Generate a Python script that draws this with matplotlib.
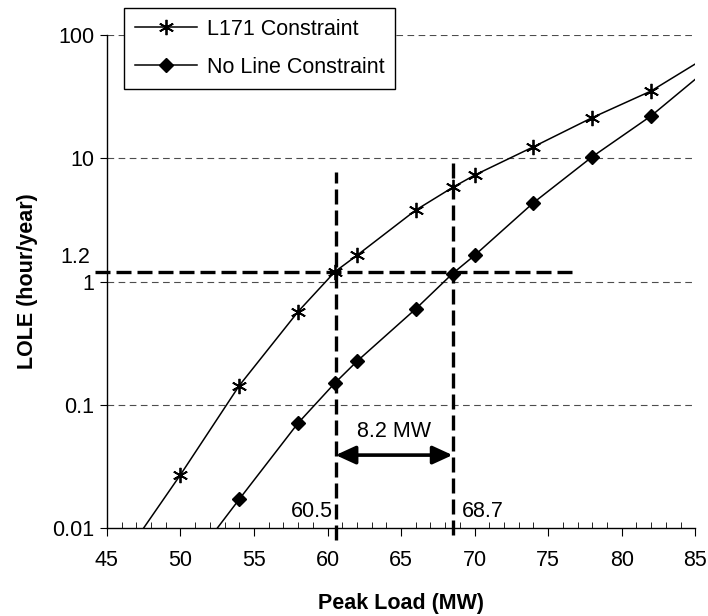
import matplotlib
matplotlib.use("Agg")
import matplotlib.pyplot as plt
from matplotlib.ticker import FixedLocator, FixedFormatter, MultipleLocator

plt.rcParams['font.family'] = ['Liberation Sans', 'DejaVu Sans']

# Data
l171_x = [46, 50, 54, 58, 60.5, 62, 66, 68.5, 70, 74, 78, 82, 86]
l171_y = [0.0055, 0.027, 0.143, 0.57, 1.2, 1.63, 3.8, 5.8, 7.3, 12.4, 21.4, 35.2, 69]
noline_x = [52, 54, 58, 60.5, 62, 66, 68.5, 70, 74, 78, 82, 86]
noline_y = [0.0083, 0.0171, 0.071, 0.15, 0.225, 0.60, 1.16, 1.63, 4.36, 10.3, 22.1, 55]

yticks = [0.01, 0.1, 1, 10, 100]
ytick_labels = ['0.01', '0.1', '1', '10', '100']
xticks = [45, 50, 55, 60, 65, 70, 75, 80, 85]

crit_level = 1.2
x_left, x_right = 60.55, 68.5
gap_label = '8.2 MW'
left_label, right_label = '60.5', '68.7'

FS = 15.5

fig = plt.figure(figsize=(7.08, 6.16), dpi=100)
ax = fig.add_axes([0.151, 0.143, 0.831, 0.800])
ax.set_yscale('log')
ax.set_xlim(45, 85)
ax.set_ylim(0.01, 100)

# grid
for g in [0.1, 1, 10, 100]:
    ax.axhline(g, color='0.3', lw=0.8, ls=(0, (6, 4)), zorder=1)

ln1, = ax.plot(l171_x, l171_y, color='black', lw=1.1, marker=(6, 2, 0), ms=11,
               mew=1.3, mec='black', label='L171 Constraint', zorder=3)
ln2, = ax.plot(noline_x, noline_y, color='black', lw=1.1, marker='D', ms=7,
               mfc='black', mec='black', label='No Line Constraint', zorder=3)

# thick dashed guide lines
dash = (0, (4.5, 1.8))
ax.plot([44.2, 76.7], [crit_level, crit_level], color='black', lw=2.4, ls=dash,
        clip_on=False, zorder=4)
ax.plot([x_left, x_left], [0.008, 7.7], color='black', lw=2.4, ls=dash,
        clip_on=False, zorder=4)
ax.plot([x_right, x_right], [0.0088, 9.2], color='black', lw=2.4, ls=dash,
        clip_on=False, zorder=4)

ax.annotate('', xy=(x_left, 0.039), xytext=(x_right, 0.039),
            arrowprops=dict(arrowstyle='<|-|>,head_length=1.2,head_width=0.55',
                            color='black', lw=2.6, shrinkA=0, shrinkB=0), zorder=5)
ax.text((x_left + x_right) / 2, 0.061, gap_label, ha='center', va='center', fontsize=FS)
ax.text(x_left - 0.2, 0.0112, left_label, ha='right', va='bottom', fontsize=FS)
ax.text(x_right + 0.6, 0.0112, right_label, ha='left', va='bottom', fontsize=FS)
ax.text(-0.028, crit_level * 1.08, str(crit_level), transform=ax.get_yaxis_transform(),
        ha='right', va='bottom', fontsize=FS)

# axes styling
for s in ['top', 'right']:
    ax.spines[s].set_visible(False)
for s in ['left', 'bottom']:
    ax.spines[s].set_linewidth(1.0)

ax.yaxis.set_major_locator(FixedLocator(yticks))
ax.yaxis.set_major_formatter(FixedFormatter(ytick_labels))
ax.yaxis.set_minor_locator(FixedLocator([]))
ax.xaxis.set_major_locator(FixedLocator(xticks))
ax.xaxis.set_minor_locator(MultipleLocator(1))
ax.tick_params(axis='y', which='major', direction='out', length=5, labelsize=FS, pad=4)
ax.tick_params(axis='x', which='major', direction='out', length=6, labelsize=FS, pad=10)
ax.tick_params(axis='x', which='minor', direction='in', length=4)

ax.set_xlabel('Peak Load (MW)', fontsize=FS, fontweight='bold', labelpad=16)
ax.set_ylabel('LOLE (hour/year)', fontsize=FS, fontweight='bold', labelpad=10)

leg = fig.legend(handles=[ln1, ln2], loc='upper left', bbox_to_anchor=(0.175, 0.987),
                 fontsize=FS, frameon=True, fancybox=False, edgecolor='black',
                 framealpha=1, borderpad=0.5, handlelength=2.9, labelspacing=0.8,
                 handletextpad=0.45, borderaxespad=0)
leg.get_frame().set_linewidth(1.0)

fig.savefig('out.png', dpi=100)
